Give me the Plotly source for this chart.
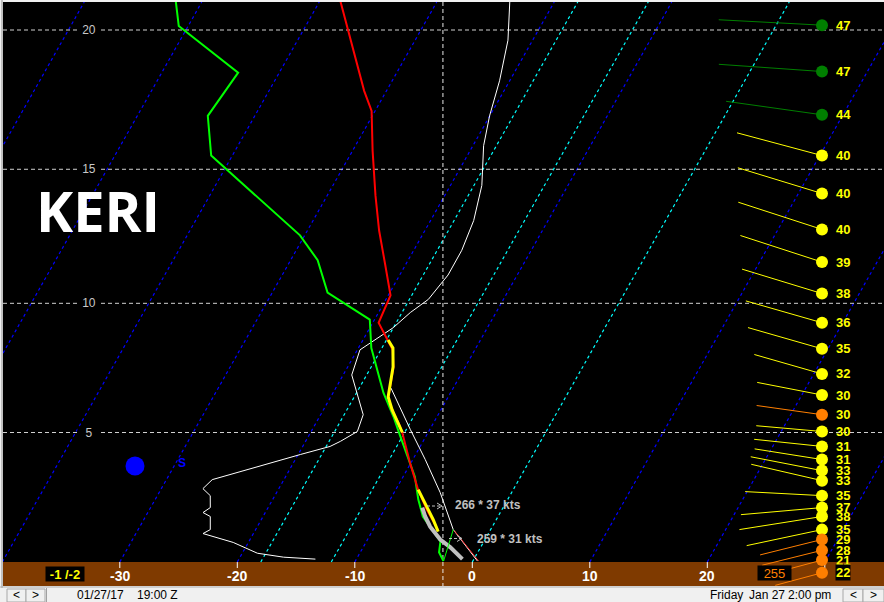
import numpy as np
import plotly.graph_objects as go

# ---------------- data ----------------
# temperature profile (height kft, degC)
temp_h = [21.04, 20.0, 17.84, 17.12, 15.68, 14.04, 12.74, 11.44, 10.3, 9.26, 8.6, 8.22,
          7.56, 6.78, 6.4, 5.89, 5.39, 5.0, 3.81, 2.73, 1.93, 1.12]
temp_c = [-38.3, -36.2, -31.9, -30.3, -28.3, -25.9, -23.9, -21.7, -19.8, -19.5, -17.9, -17.0,
          -16.1, -15.4, -15.1, -14.2, -13.0, -12.2, -10.1, -8.1, -6.4, -4.5]
# dewpoint profile
dew_h = [21.04, 20.14, 18.49, 16.94, 15.5, 12.56, 11.63, 10.41, 9.38, 8.29, 6.55, 5.62,
         4.86, 4.05, 3.25, 2.33, 1.65, 1.24, 0.84, 0.64, 0.2, -0.16]
dew_c = [-52.3, -50.8, -43.5, -44.0, -41.8, -30.4, -27.7, -25.3, -20.4, -18.9, -15.7, -13.7,
         -12.2, -10.6, -9.0, -7.6, -6.4, -5.3, -4.2, -3.7, -3.3, -2.5]
# near-surface thin traces
sfc_temp_h = [1.08, -0.16]
sfc_temp_c = [-3.05, 0.49]
sfc_dew_h = [-0.16, 1.12]
sfc_dew_c = [-2.49, -3.18]
# yellow (thick) segments
yel_upper_h = [8.6, 8.29, 7.56, 6.78, 6.4, 5.89, 5.39, 5.0]
yel_upper_c = [-17.86, -17.06, -16.14, -15.43, -15.12, -14.15, -13.02, -12.19]
yel_lower_h = [2.73, 2.01, 1.52, 1.04]
yel_lower_c = [-8.09, -6.46, -5.36, -4.37]
# grey (thick) near-surface trace
grey_h = [2.01, 1.65, 1.24, 0.72, 0.4, -0.08]
grey_c = [-6.88, -6.2, -5.29, -3.81, -2.57, -0.98]
# thin white profile (long)
white1_h = [21.04, 19.64, 18.2, 16.94, 15.86, 14.41, 13.11, 12.0, 11.07, 10.15, 9.65, 9.07,
            8.22, 7.25, 5.7, 5.04, 4.65, 4.45, 4.13, 3.45, 3.13, 2.77, 2.49, 2.01, 1.81,
            1.65, 1.12, 0.96, 0.88, 0.6, 0.16, 0.0, -0.08]
white1_c = [-23.86, -22.1, -20.86, -20.02, -19.09, -17.33, -16.33, -15.91, -15.89, -16.39,
            -17.29, -18.02, -19.78, -19.27, -16.38, -16.07, -17.04, -17.67, -19.81, -24.11,
            -26.1, -26.46, -25.5, -24.92, -25.3, -24.49, -23.86, -24.29, -23.57, -21.29,
            -18.71, -16.3, -13.49]
# thin white profile (short, low levels)
white2_h = [6.74, 5.12, 3.93, 2.61, 1.12, -0.16]
white2_c = [-15.3, -11.66, -8.94, -6.07, -3.18, 0.4]
# winds
wind_h = [20.17, 18.53, 16.98, 15.5, 14.11, 12.78, 11.56, 10.37, 9.26, 8.26, 7.29, 6.47, 5.7,
          5.04, 4.45, 3.93, 3.49, 3.09, 2.49, 2.01, 1.65, 1.12, 0.72, 0.28, -0.12, -0.64]
wind_kt = [47, 47, 44, 40, 40, 40, 39, 38, 36, 35, 32, 30, 30, 30, 31, 31, 33, 33, 35, 37,
           38, 35, 29, 28, 21, 22]
wind_dir = [273, 274, 278, 285, 287, 288, 288, 287, 286, 286, 286, 281, 278, 275, 276, 279,
            281, 283, 273, 265, 261, 258, 256, 256, 255, 255]
wind_cat = ['g', 'g', 'g', 'y', 'y', 'y', 'y', 'y', 'y', 'y', 'y', 'y', 'o', 'y', 'y', 'y',
            'y', 'y', 'y', 'y', 'y', 'y', 'o', 'o', 'o', 'o']
# axes / labels
iso_ticks = [-40, -30, -20, -10, 0, 10, 20, 30]
iso_labels = ['-40', '-30', '-20', '-10', '0', '10', '20', '']
iso_lines = list(range(-110, 40, 10))
special_isotherms = [-18, -12, 0]
height_ticks = [5, 10, 15, 20]
marker_temp = -2.5
station = 'KERI'
mean_winds = ['266 * 37 kts', '259 * 31 kts']
sfc_text = '-1 /-2'
sfc_dir_text = '255'

# ---------------- scales ----------------
W, H = 884, 602
PX_C = 11.75
PX_LN = 678.0
SKEW_PX = 0.566


def lnp(h):
    h = np.asarray(h, dtype=float) * 1000.0
    return np.log(1013.25) + 5.2559 * np.log(1.0 - 6.8756e-6 * h)


LN20 = float(lnp(20.0))


def ln_px(py):
    return LN20 + (py - 30.0) / PX_LN


LN_BASE = ln_px(562)
K = SKEW_PX * PX_LN / PX_C


def skew_ln(t, ln):
    return np.asarray(t, dtype=float) + K * (LN_BASE - np.asarray(ln, dtype=float))


def skew(t, h):
    return skew_ln(t, lnp(h))


XR = [(3 - 472.3) / PX_C, (884 - 472.3) / PX_C]
LN_TOP = ln_px(2)
LN_BOT = ln_px(588)


def px(x):
    return x / W


def py(y):
    return 1 - y / H


fig = go.Figure()


def add_line(x, y, color, width, dash=None):
    fig.add_trace(go.Scatter(x=list(x), y=list(y), mode='lines',
                             line=dict(color=color, width=width, dash=dash),
                             hoverinfo='skip', showlegend=False, cliponaxis=True))


def profile(t, h, color, width, dash=None):
    add_line(skew(t, h), lnp(h), color, width, dash)


# isotherms
bx, by = [], []
for t in iso_lines:
    if t in special_isotherms:
        continue
    bx += [float(skew_ln(t, LN_BASE)), float(skew_ln(t, LN_TOP)), None]
    by += [LN_BASE, LN_TOP, None]
add_line(bx, by, '#0000ff', 1.2, '3px,3px')
cx, cy = [], []
for t in special_isotherms:
    cx += [float(skew_ln(t, LN_BASE)), float(skew_ln(t, LN_TOP)), None]
    cy += [LN_BASE, LN_TOP, None]
add_line(cx, cy, '#00ffff', 1.2, '3px,3px')

# height lines
hx, hy = [], []
for h in height_ticks:
    hx += [XR[0], XR[1], None]
    hy += [float(lnp(h)), float(lnp(h)), None]
add_line(hx, hy, '#d0d0d0', 1, '4px,3px')
# vertical marker line
add_line([marker_temp, marker_temp], [LN_TOP, ln_px(586)], '#e8e8e8', 1, '4px,3px')

# profiles
profile(white1_c, white1_h, '#ffffff', 1)
profile(white2_c, white2_h, '#ffffff', 1)
profile(dew_c, dew_h, '#00ff00', 2)
profile(temp_c, temp_h, '#ff0000', 2)
profile(yel_upper_c, yel_upper_h, '#ffff00', 3)
profile(yel_lower_c, yel_lower_h, '#ffff00', 3)
profile(grey_c, grey_h, '#c0c0c0', 4)
profile(sfc_temp_c, sfc_temp_h, '#ff3030', 1)
profile(sfc_dew_c, sfc_dew_h, '#00ff00', 1)

# winds
DOT_X = (822 - 472.3) / PX_C
BARB = 2.2
dot_col = {'g': '#007f00', 'y': '#ffff00', 'o': '#ff7f00'}
line_col = {'g': '#007f00', 'y': '#ffff00', 'o': '#ff7f00'}
for cat in ['g', 'y', 'o']:
    lx, ly = [], []
    for h, s, d, c in zip(wind_h, wind_kt, wind_dir, wind_cat):
        if c != cat:
            continue
        l0 = float(lnp(h))
        r = np.radians(d)
        lx += [DOT_X + BARB * s * np.sin(r) / PX_C, DOT_X, None]
        ly += [l0 - BARB * s * np.cos(r) / PX_LN, l0, None]
    add_line(lx, ly, line_col[cat], 1)
fig.add_trace(go.Scatter(x=[DOT_X] * len(wind_h), y=lnp(wind_h), mode='markers',
                         marker=dict(size=12, color=[dot_col[c] for c in wind_cat], line=dict(width=0)),
                         hoverinfo='skip', showlegend=False, cliponaxis=False))

ann = []


def text(t, x, y, size, color, xref='paper', yref='paper', xanchor='center', weight='normal',
         family='Liberation Sans', bg=None, **kw):
    d = dict(text=t, x=x, y=y, xref=xref, yref=yref, xanchor=xanchor, yanchor='middle',
             showarrow=False, font=dict(size=size, color=color, family=family, weight=weight))
    if bg:
        d['bgcolor'] = bg
    d.update(kw)
    ann.append(d)


for i, (h, s) in enumerate(zip(wind_h, wind_kt)):
    last = i == len(wind_h) - 1
    text(str(s), DOT_X + 13 / PX_C, float(lnp(h)), 13, '#ffff00', xref='x', yref='y',
         xanchor='left', weight='bold', bg='#000000' if last else None, borderpad=0)

for h in height_ticks:
    text(str(h), px(89), float(lnp(h)), 12, '#c8c8c8', yref='y', bg='#000000',
         width=22, height=12, borderpad=0)

for t, lab in zip(iso_ticks, iso_labels):
    if lab:
        text(lab, t, py(576), 14, '#ffffff', xref='x', weight='bold')

text(station, px(98), py(210), 56, '#ffffff', weight='bold', family='Open Sans', height=44)
text('S', px(182), py(463), 12, '#0000ff', weight='bold')
text(mean_winds[0], px(453), py(505), 12, '#c0c0c0', xanchor='left', weight='bold')
text(mean_winds[1], px(475), py(539), 12, '#c0c0c0', xanchor='left', weight='bold')
text(sfc_text, px(65), py(574), 13, '#ffff00', weight='bold', bg='#000000', width=36, height=12)
text(sfc_dir_text, px(774), py(573), 13, '#ff7f00', bg='#000000', width=31, height=12)
text('01/27/17', px(75), py(595), 12, '#000000', xanchor='left')
text('19:00 Z', px(135), py(595), 12, '#000000', xanchor='left')
text('Friday', px(708), py(595), 12, '#000000', xanchor='left')
text('Jan 27', px(747), py(595), 12, '#000000', xanchor='left')
text('2:00 pm', px(786), py(595), 12, '#000000', xanchor='left')
for cxp, ch in [(16.5, '<'), (35.5, '>'), (853, '<'), (873.5, '>')]:
    text(ch, px(cxp), py(595), 12, '#000000')

shapes = []


def rect(x0, y0, x1, y1, fill, line=None, layer='below'):
    shapes.append(dict(type='rect', xref='paper', yref='paper', x0=px(x0), x1=px(x1),
                       y0=py(y1), y1=py(y0), fillcolor=fill,
                       line=dict(width=1 if line else 0, color=line or fill), layer=layer))


def seg(x0, y0, x1, y1, color, width=1, dash=None, layer='above'):
    shapes.append(dict(type='line', xref='paper', yref='paper', x0=px(x0), x1=px(x1),
                       y0=py(y0), y1=py(y1), line=dict(color=color, width=width, dash=dash),
                       layer=layer))


rect(3, 2, 884, 562, '#000000')
rect(3, 562, 884, 586, '#7f3a00')
seg(2, 0, 2, 588, '#909090', 1, layer='below')
seg(0, 587, 884, 587, '#b0b0b0', 1, layer='below')
for b in [(7, 589, 26, 602), (26, 589, 45, 602), (843, 589, 863, 602), (863, 589, 884, 602)]:
    rect(*b, '#f0f0f0', line='#a8a8a8')
seg(46.5, 588, 46.5, 602, '#a0a0a0', 1)
# tick marks
for t in iso_ticks:
    shapes.append(dict(type='line', xref='x', yref='paper', x0=t, x1=t, y0=py(562), y1=py(568),
                       line=dict(color='#ffffff', width=1), layer='below'))
# blue circle
shapes.append(dict(type='circle', xref='paper', yref='paper', x0=px(125.5), x1=px(144.5),
                   y0=py(475.5), y1=py(456.5), fillcolor='#0000ff', line=dict(width=0)))
# mean-wind arrows
for (x0, x1, yy) in [(427, 441, 506), (449, 461, 538.5)]:
    seg(x0, yy, x1, yy, '#c0c0c0', 1, dash='3px,2px')
    seg(x1 - 4, yy - 3, x1 + 1, yy, '#c0c0c0', 1)
    seg(x1 - 4, yy + 3, x1 + 1, yy, '#c0c0c0', 1)

fig.update_layout(width=W, height=H, margin=dict(l=0, r=0, t=0, b=0),
                  paper_bgcolor='#f0f0f0', plot_bgcolor='rgba(0,0,0,0)',
                  xaxis=dict(range=XR, domain=[3 / W, 1], visible=False, fixedrange=True),
                  yaxis=dict(range=[LN_BOT, LN_TOP], domain=[1 - 588 / H, 1 - 2 / H],
                             visible=False, fixedrange=True),
                  showlegend=False, annotations=ann, shapes=shapes)
fig.write_html('out.html', config={'displayModeBar': False},
               post_script="document.body.style.margin='0';document.body.style.overflow='hidden';")
